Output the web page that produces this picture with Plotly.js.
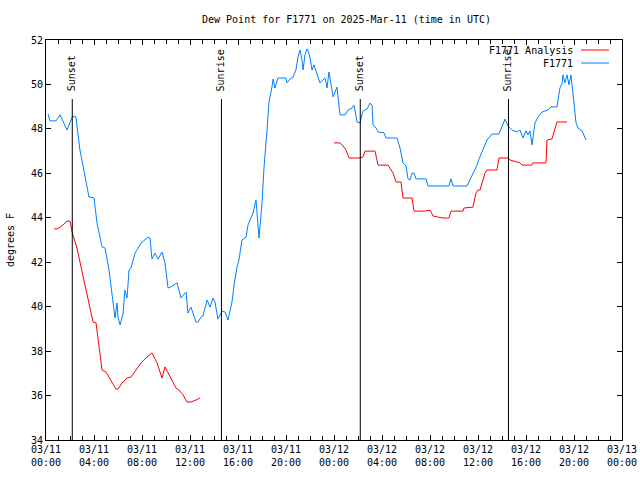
<!DOCTYPE html>
<html>
<head>
<meta charset="utf-8">
<script src="https://cdn.plot.ly/plotly-3.0.1.min.js"></script>
<style>html,body{margin:0;padding:0;background:#fff;}#chart{width:640px;height:480px;}</style>
</head>
<body>
<div id="chart"></div>
<script>
// Hours since 2025-03-11 00:00 UTC
const obsHours = [0.17,0.33,0.83,1.17,1.75,2.17,2.42,2.5,2.83,3.17,3.58,4.0,4.25,4.67,4.92,5.25,5.5,5.75,5.92,6.0,6.17,6.42,6.58,6.75,6.92,7.08,7.42,7.92,8.5,8.67,8.83,9.08,9.33,9.67,9.92,10.17,10.42,10.92,11.25,11.67,11.83,12.08,12.5,12.67,12.92,13.08,13.42,13.67,13.92,14.08,14.33,14.5,14.67,14.92,15.17,15.5,15.67,15.92,16.08,16.33,16.67,16.83,17.25,17.5,17.58,17.75,18.0,18.17,18.42,18.58,18.83,18.92,19.08,19.25,19.33,20.0,20.08,20.33,20.58,20.83,21.0,21.17,21.33,21.42,21.58,21.75,21.83,22.0,22.17,22.33,22.58,22.83,23.08,23.25,23.42,23.58,23.83,23.92,24.25,24.33,24.5,24.92,25.17,25.5,25.67,25.92,26.17,26.33,26.42,26.75,27.0,27.17,27.25,27.5,27.67,28.17,28.33,29.25,29.5,29.75,30.0,30.17,30.33,30.5,30.67,30.83,31.67,31.83,33.58,33.75,33.92,35.08,35.33,35.58,35.92,36.08,36.75,37.17,37.75,38.25,38.5,38.83,39.25,39.5,39.75,40.0,40.17,40.33,40.5,40.75,41.0,41.33,41.83,42.08,42.58,42.83,43.0,43.08,43.25,43.42,43.58,43.75,43.92,44.17,44.33,44.67,45.0];
const obsValues = [48.67,48.36,48.36,48.63,47.95,48.53,48.58,48.49,47.05,46.15,44.94,44.89,43.77,42.69,42.64,41.65,40.61,39.49,40.16,39.53,39.18,39.71,40.75,40.39,41.65,41.74,42.41,42.86,43.13,43.09,42.14,42.41,42.14,42.46,41.96,40.84,40.89,41.07,40.39,40.66,39.71,39.98,39.31,39.31,39.53,39.58,40.30,39.98,40.39,40.21,39.44,39.62,39.80,39.76,39.40,40.21,40.97,41.79,42.10,43.0,43.13,43.67,44.21,44.80,44.21,43.09,44.66,46.28,47.95,49.21,49.88,50.24,49.84,50.24,50.29,50.29,50.07,50.24,50.33,50.65,51.24,51.55,51.10,50.65,51.33,51.60,51.55,51.19,50.65,50.88,50.52,50.07,50.20,50.29,49.84,50.56,49.75,49.44,49.88,49.53,48.63,48.63,48.85,48.94,49.07,48.31,48.27,48.63,48.80,48.89,49.16,49.07,48.17,48.04,47.86,47.82,47.59,47.59,47.14,46.47,46.33,45.75,45.70,46.01,46.01,45.75,45.75,45.43,45.43,45.75,45.43,45.43,45.70,46.01,46.37,46.64,47.5,47.77,47.77,48.44,48.13,47.95,47.86,47.95,47.59,47.91,47.73,47.91,47.28,48.27,48.53,48.76,48.85,48.99,48.99,49.84,50.02,50.43,50.07,50.43,49.98,50.43,49.62,48.27,48.04,47.91,47.5];

// null marks a gap in the analysis series
const anaHours = [0.67,0.92,1.33,1.75,2.0,2.17,2.58,3.08,3.58,3.92,4.17,4.42,4.67,5.0,5.42,5.83,6.0,6.33,6.75,7.08,7.5,7.92,8.33,8.83,9.25,9.67,9.92,10.33,10.83,11.08,11.42,11.75,12.08,12.5,12.83,18.0,24.0,24.5,24.75,25.0,25.25,26.17,26.42,26.58,27.42,27.67,28.5,28.75,28.92,29.17,29.58,29.75,30.5,30.67,31.58,32.0,32.25,32.67,33.08,33.58,33.75,34.75,34.83,35.58,35.83,36.0,36.17,36.58,36.75,37.58,37.75,38.5,38.67,39.5,39.67,40.5,40.58,41.67,41.75,42.17,42.42,42.58,43.42];
const anaValues = [43.50,43.50,43.63,43.85,43.85,43.36,42.64,41.43,40.08,39.31,39.27,38.19,37.15,37.06,36.70,36.29,36.29,36.56,36.79,36.83,37.15,37.47,37.69,37.92,37.47,36.79,37.29,36.83,36.34,36.25,36.03,35.71,35.71,35.80,35.89,null,47.37,47.37,47.23,47.05,46.69,46.69,46.74,47.0,47.0,46.37,46.37,46.15,46.01,45.61,45.61,44.89,44.89,44.30,44.30,44.35,44.08,44.03,43.99,43.99,44.30,44.30,44.44,44.48,45.12,45.25,45.25,46.01,46.15,46.15,46.69,46.69,46.60,46.47,46.37,46.37,46.47,46.47,47.5,47.55,47.95,48.31,48.31];

const eventHours = [2.19, 14.62, 26.19, 38.54];
const eventLabels = ["Sunset", "Sunrise", "Sunset", "Sunrise"];

const seriesNames = ["F1771 Analysis", "F1771"];
const seriesColors = ["#ff0000", "#0080ff"];

const titleText = "Dew Point for F1771 on 2025-Mar-11 (time in UTC)";
const yTitle = "degrees F";

function pad(n){return (n<10?"0":"")+n;}
function toDate(h){
  const d = new Date(Date.UTC(2025,2,11) + Math.round(h*3600)*1000);
  return d.getUTCFullYear()+"-"+pad(d.getUTCMonth()+1)+"-"+pad(d.getUTCDate())+" "+pad(d.getUTCHours())+":"+pad(d.getUTCMinutes())+":"+pad(d.getUTCSeconds());
}

const font = {family: "DejaVu Sans Mono, monospace", size: 10, color: "#000"};

const traces = [
  {x: anaHours.map(toDate), y: anaValues, mode: "lines", name: seriesNames[0],
   line: {color: seriesColors[0], width: 1}, connectgaps: false, showlegend: false},
  {x: obsHours.map(toDate), y: obsValues, mode: "lines", name: seriesNames[1],
   line: {color: seriesColors[1], width: 1}, showlegend: false}
];

const shapes = [];
const annotations = [];
eventHours.forEach((h, i) => {
  shapes.push({type: "line", xref: "x", yref: "paper", x0: toDate(h), x1: toDate(h), y0: 0, y1: 0.8525,
    line: {color: "#000", width: 1}});
  annotations.push({xref: "x", yref: "paper", x: toDate(h), y: 0.8675, text: eventLabels[i],
    textangle: -90, showarrow: false, xanchor: "center", yanchor: "bottom", font: font});
});
// manual legend (text then line sample, gnuplot style)
const legendY = [0.975, 0.9425];
seriesNames.forEach((n, i) => {
  annotations.push({xref: "paper", yref: "paper", x: 0.918, y: legendY[i], text: n, showarrow: false,
    xanchor: "right", yanchor: "middle", font: font});
  shapes.push({type: "line", xref: "paper", yref: "paper", x0: 0.9288, x1: 0.9774, y0: legendY[i], y1: legendY[i],
    line: {color: seriesColors[i], width: 1}});
});

const layout = {
  width: 640, height: 480,
  margin: {l: 46, r: 18, t: 40, b: 40},
  paper_bgcolor: "#fff", plot_bgcolor: "#fff",
  font: font,
  title: {text: titleText, font: font, x: 0.5217, xanchor: "center", y: 0.96, yanchor: "middle", xref: "paper"},
  showlegend: false,
  xaxis: {
    type: "date",
    range: [toDate(0), toDate(48)],
    dtick: 4*3600*1000, tick0: toDate(0),
    tickformat: "%m/%d<br>%H:%M",
    ticks: "inside", ticklen: 5, tickcolor: "#000", tickwidth: 1,
    minor: {dtick: 3600*1000, ticks: "inside", ticklen: 4, tickcolor: "#000", showgrid: false},
    showline: true, linecolor: "#000", linewidth: 1, mirror: "ticks",
    showgrid: false, zeroline: false, tickfont: font, tickangle: 0
  },
  yaxis: {
    range: [34, 52], dtick: 2, tick0: 34,
    ticks: "inside", ticklen: 5, tickcolor: "#000", tickwidth: 1,
    showline: true, linecolor: "#000", linewidth: 1, mirror: "ticks",
    showgrid: false, zeroline: false, tickfont: font,
    title: {text: yTitle, font: font, standoff: 14}
  },
  shapes: shapes,
  annotations: annotations
};

Plotly.newPlot("chart", traces, layout, {staticPlot: true, displayModeBar: false});
</script>
</body>
</html>
